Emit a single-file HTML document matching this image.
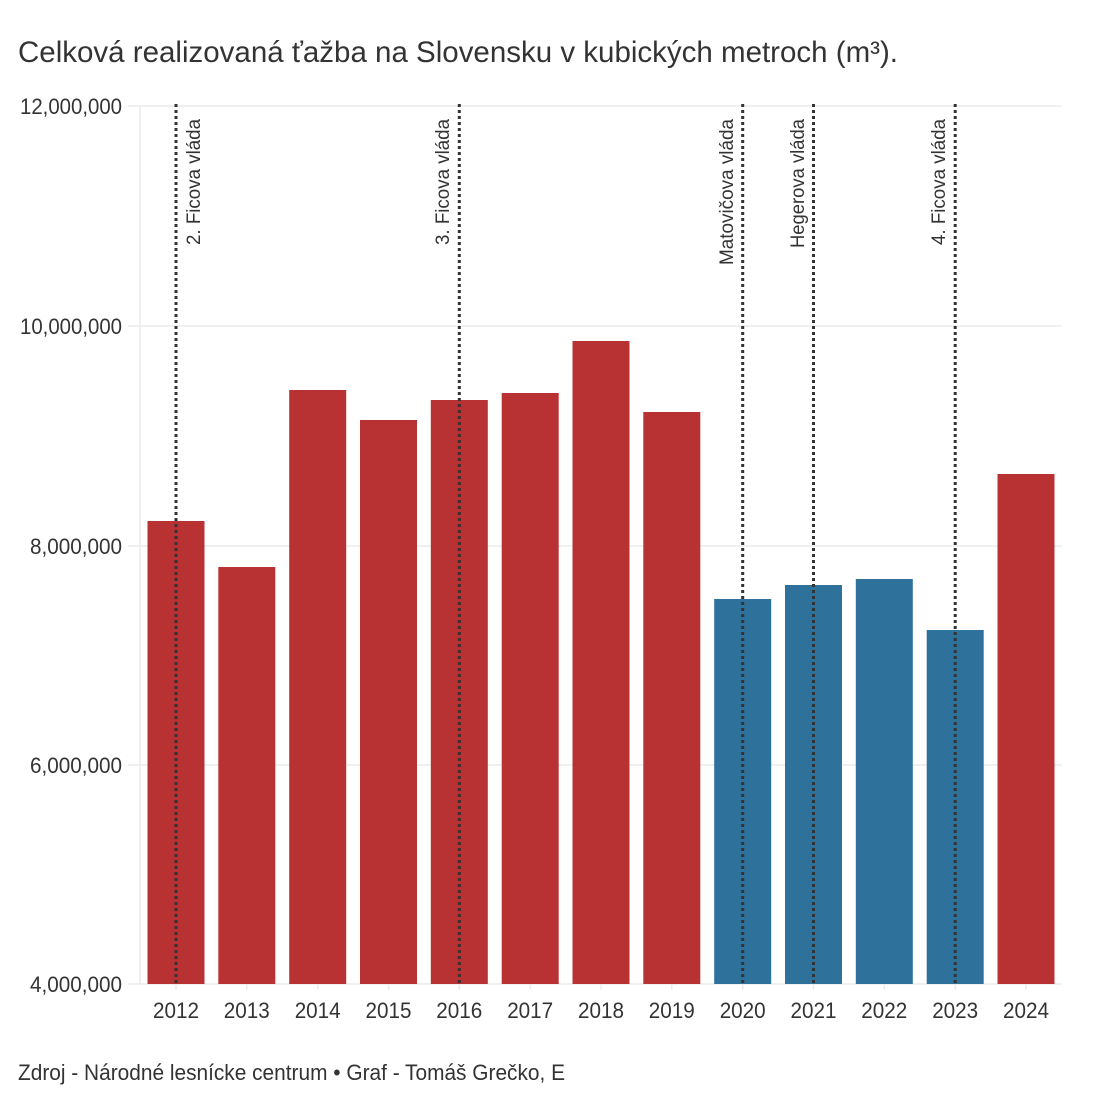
<!DOCTYPE html>
<html><head><meta charset="utf-8"><style>
html,body{margin:0;padding:0;background:#fff;}
svg text{font-family:"Liberation Sans Narrow","Liberation Sans",sans-serif;fill:#333;}
</style></head><body>
<svg width="1110" height="1110" viewBox="0 0 1110 1110" xmlns="http://www.w3.org/2000/svg">
<rect width="1110" height="1110" fill="#fff"/>
<text x="18" y="62" font-size="30" textLength="880" lengthAdjust="spacingAndGlyphs">Celková realizovaná ťažba na Slovensku v kubických metroch (m³).</text>
<g stroke="#ebebeb" stroke-width="1.5">
<line x1="128" y1="106" x2="1062" y2="106"/>
<line x1="128" y1="326" x2="1062" y2="326"/>
<line x1="128" y1="546" x2="1062" y2="546"/>
<line x1="128" y1="765" x2="1062" y2="765"/>
<line x1="128" y1="984" x2="1062" y2="984"/>
<line x1="140" y1="106" x2="140" y2="984"/>
</g>
<g font-size="22" text-anchor="end">
<text x="122" y="114" textLength="102" lengthAdjust="spacingAndGlyphs">12,000,000</text>
<text x="122" y="334" textLength="102" lengthAdjust="spacingAndGlyphs">10,000,000</text>
<text x="122" y="554" textLength="92" lengthAdjust="spacingAndGlyphs">8,000,000</text>
<text x="122" y="773" textLength="92" lengthAdjust="spacingAndGlyphs">6,000,000</text>
<text x="122" y="992" textLength="92" lengthAdjust="spacingAndGlyphs">4,000,000</text>
</g>
<g fill="#b83234">
<rect x="147.5" y="521" width="57" height="463"/>
<rect x="218.3" y="567" width="57" height="417"/>
<rect x="289.2" y="390" width="57" height="594"/>
<rect x="360" y="420" width="57" height="564"/>
<rect x="430.8" y="400" width="57" height="584"/>
<rect x="501.7" y="393" width="57" height="591"/>
<rect x="572.5" y="341" width="57" height="643"/>
<rect x="643.3" y="412" width="57" height="572"/>
<rect x="997.5" y="474" width="57" height="510"/>
</g>
<g fill="#2e729c">
<rect x="714.2" y="599" width="57" height="385"/>
<rect x="785" y="585" width="57" height="399"/>
<rect x="855.8" y="579" width="57" height="405"/>
<rect x="926.7" y="630" width="57" height="354"/>
</g>
<g stroke="#333" stroke-width="3" stroke-dasharray="3,3">
<line x1="176" y1="104" x2="176" y2="984"/>
<line x1="459.3" y1="104" x2="459.3" y2="984"/>
<line x1="742.7" y1="104" x2="742.7" y2="984"/>
<line x1="813.5" y1="104" x2="813.5" y2="984"/>
<line x1="955.2" y1="104" x2="955.2" y2="984"/>
</g>
<g font-size="19">
<text transform="translate(200,245) rotate(-90)" textLength="126" lengthAdjust="spacingAndGlyphs">2. Ficova vláda</text>
<text transform="translate(449,245) rotate(-90)" textLength="126" lengthAdjust="spacingAndGlyphs">3. Ficova vláda</text>
<text transform="translate(733,265) rotate(-90)" textLength="146" lengthAdjust="spacingAndGlyphs">Matovičova vláda</text>
<text transform="translate(804,248) rotate(-90)" textLength="129" lengthAdjust="spacingAndGlyphs">Hegerova vláda</text>
<text transform="translate(945,245) rotate(-90)" textLength="126" lengthAdjust="spacingAndGlyphs">4. Ficova vláda</text>
</g>
<g stroke="#ebebeb" stroke-width="1.5">
<line x1="176" y1="984" x2="176" y2="990"/><line x1="246.8" y1="984" x2="246.8" y2="990"/><line x1="317.7" y1="984" x2="317.7" y2="990"/><line x1="388.5" y1="984" x2="388.5" y2="990"/><line x1="459.3" y1="984" x2="459.3" y2="990"/><line x1="530.2" y1="984" x2="530.2" y2="990"/><line x1="601" y1="984" x2="601" y2="990"/><line x1="671.8" y1="984" x2="671.8" y2="990"/><line x1="742.7" y1="984" x2="742.7" y2="990"/><line x1="813.5" y1="984" x2="813.5" y2="990"/><line x1="884.3" y1="984" x2="884.3" y2="990"/><line x1="955.2" y1="984" x2="955.2" y2="990"/><line x1="1026" y1="984" x2="1026" y2="990"/>
</g>
<g font-size="22" text-anchor="middle">
<text x="176" y="1018" textLength="46" lengthAdjust="spacingAndGlyphs">2012</text><text x="246.8" y="1018" textLength="46" lengthAdjust="spacingAndGlyphs">2013</text><text x="317.7" y="1018" textLength="46" lengthAdjust="spacingAndGlyphs">2014</text><text x="388.5" y="1018" textLength="46" lengthAdjust="spacingAndGlyphs">2015</text><text x="459.3" y="1018" textLength="46" lengthAdjust="spacingAndGlyphs">2016</text><text x="530.2" y="1018" textLength="46" lengthAdjust="spacingAndGlyphs">2017</text><text x="601" y="1018" textLength="46" lengthAdjust="spacingAndGlyphs">2018</text><text x="671.8" y="1018" textLength="46" lengthAdjust="spacingAndGlyphs">2019</text><text x="742.7" y="1018" textLength="46" lengthAdjust="spacingAndGlyphs">2020</text><text x="813.5" y="1018" textLength="46" lengthAdjust="spacingAndGlyphs">2021</text><text x="884.3" y="1018" textLength="46" lengthAdjust="spacingAndGlyphs">2022</text><text x="955.2" y="1018" textLength="46" lengthAdjust="spacingAndGlyphs">2023</text><text x="1026" y="1018" textLength="46" lengthAdjust="spacingAndGlyphs">2024</text>
</g>
<text x="18" y="1080" font-size="22" textLength="547" lengthAdjust="spacingAndGlyphs">Zdroj - Národné lesnícke centrum • Graf - Tomáš Grečko, E</text>
</svg>
</body></html>
